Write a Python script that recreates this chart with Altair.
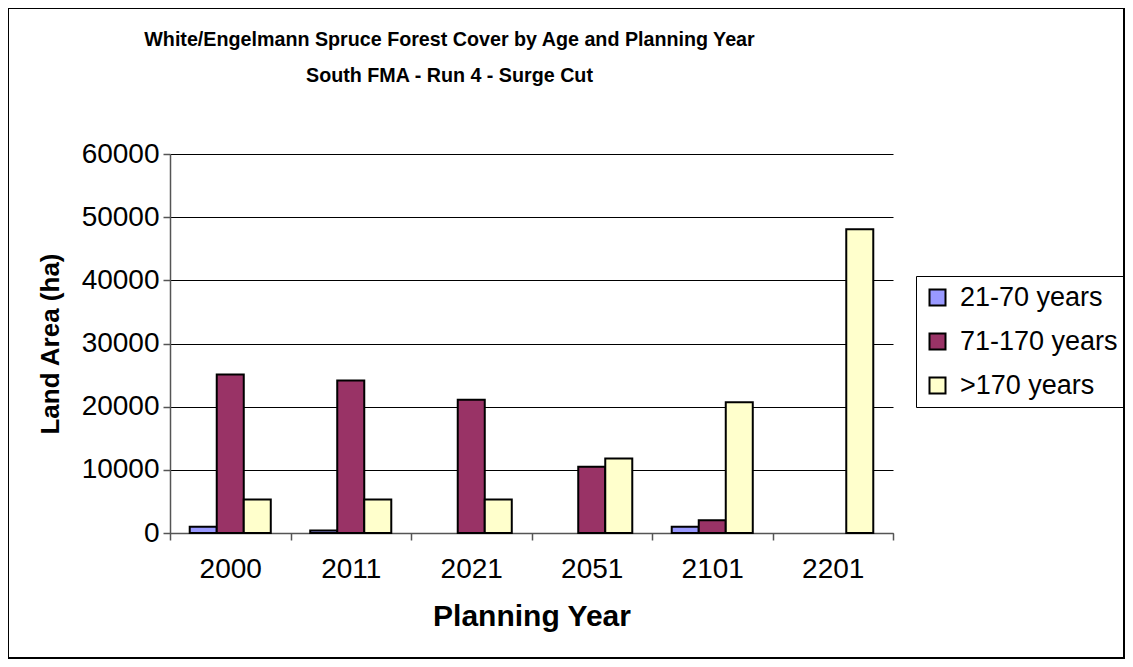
import altair as alt
import pandas as pd

years = ["2000", "2011", "2021", "2051", "2101", "2201"]
series = ["21-70 years", "71-170 years", ">170 years"]
s21_70 = [1000, 400, 0, 0, 1000, 0]
s71_170 = [25100, 24150, 21100, 10500, 2000, 0]
s170 = [5300, 5300, 5300, 11800, 20700, 48100]
colors = ["#9999FF", "#993366", "#FFFFCC"]

rows = []
for name, vals in zip(series, [s21_70, s71_170, s170]):
    for y, v in zip(years, vals):
        rows.append({"year": y, "series": name, "value": v})
df = pd.DataFrame(rows)

FONT = "Liberation Sans"
W, H = 723, 379

bars = alt.Chart(df).transform_filter("datum.value > 0").mark_bar(
    stroke="black", strokeWidth=2
).encode(
    x=alt.X("year:N", sort=years, title="Planning Year",
            scale=alt.Scale(paddingInner=0, paddingOuter=0),
            axis=alt.Axis(labelAngle=0, tickBand="extent", tickSize=7,
                          labelFontSize=28, labelPadding=15, titleFontSize=30,
                          titlePadding=18, domainColor="#555555", domainWidth=1.5,
                          tickColor="#555555", tickWidth=1.5)),
    xOffset=alt.XOffset("series:N", sort=series,
                        scale=alt.Scale(paddingInner=0, paddingOuter=0.73)),
    y=alt.Y("value:Q", title="Land Area (ha)",
            scale=alt.Scale(domain=[0, 60000]),
            axis=alt.Axis(values=[0, 10000, 20000, 30000, 40000, 50000, 60000],
                          format="d", tickSize=7, labelFontSize=28, labelPadding=4,
                          titleFontSize=26, titlePadding=18, gridColor="black",
                          gridWidth=1, domainColor="#555555", domainWidth=1.5,
                          tickColor="#555555", tickWidth=1.5)),
    color=alt.Color("series:N", sort=series,
                    scale=alt.Scale(domain=series, range=colors),
                    legend=alt.Legend(title=None, orient="none", legendX=746,
                                      legendY=122, symbolType="square",
                                      symbolSize=256, symbolStrokeColor="black",
                                      symbolStrokeWidth=2, labelFontSize=27,
                                      rowPadding=16, padding=8, strokeColor="black",
                                      labelOffset=9)),
)

border = alt.Chart(df).mark_rect(fill=None, stroke="black", strokeWidth=1.5).encode(
    x=alt.value(-162), x2=alt.value(W + 231), y=alt.value(-146), y2=alt.value(H + 125)
)

chart = alt.layer(border, bars).properties(
    width=W, height=H,
    autosize=alt.AutoSizeParams(type="none"),
    padding={"left": 162, "top": 146, "right": 232, "bottom": 126},
    title=alt.TitleParams(
        text=["White/Engelmann Spruce Forest Cover by Age and Planning Year",
              "South FMA - Run 4 - Surge Cut"],
        fontSize=19.7, font=FONT, fontWeight="bold", anchor="middle", frame="group",
        dx=-82, dy=98, lineHeight=36, offset=20),
).configure(font=FONT).configure_view(stroke=None).configure_axis(
    labelFont=FONT, titleFont=FONT, labelColor="black", titleColor="black"
).configure_legend(labelFont=FONT, labelColor="black")

chart.save("out.html", embed_options={"renderer": "svg", "actions": False})
